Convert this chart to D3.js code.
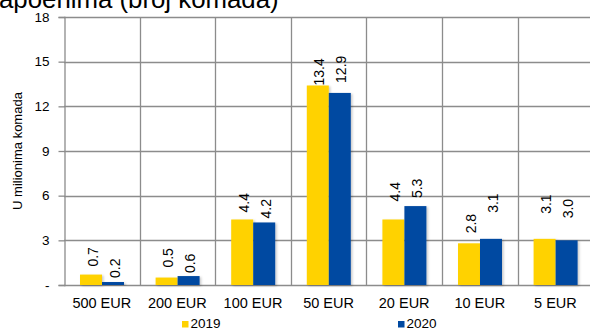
<!DOCTYPE html>
<html>
<head>
<meta charset="utf-8">
<script src="https://cdn.jsdelivr.net/npm/d3@7"></script>
<style>
  html, body { margin: 0; padding: 0; background: #fff; overflow: hidden; }
  svg { display: block; font-family: "Liberation Sans", Arial, sans-serif; }
</style>
</head>
<body>
<svg id="chart" width="590" height="329"></svg>
<script>
// Banknotes by denomination, millions of pieces
const categories = ["500 EUR", "200 EUR", "100 EUR", "50 EUR", "20 EUR", "10 EUR", "5 EUR"];
const seriesNames = ["2019", "2020"];
const values2019 = [0.7, 0.5, 4.4, 13.4, 4.4, 2.8, 3.1];
const values2020 = [0.2, 0.6, 4.2, 12.9, 5.3, 3.1, 3.0];
const yTicks = [0, 3, 6, 9, 12, 15, 18];
const colors = ["#FFD200", "#0049A1"];

// Hand-tuned gap (px) between each bar top and its rotated value label
const labelGap2019 = [8, 10, 7, 0, 18, 10, 25];
const labelGap2020 = [4, 3, 4, 10, 8, 26, 22];

const svg = d3.select("#chart");
const margin = { left: 64, top: 17, bottom: 44 };
const plotBottom = 329 - margin.bottom;
const bandWidth = 75.6;
const plotRight = margin.left + bandWidth * categories.length;
const FONT = "'Liberation Sans', Arial, sans-serif";

const x = d3.scaleBand().domain(categories).range([margin.left, plotRight]);
const xs = d3.scaleBand().domain(seriesNames).range([16, 60]);
const y = d3.scaleLinear().domain([0, 18]).range([plotBottom, margin.top]);

const defs = svg.append("defs");
const f = defs.append("filter").attr("id", "shadow").attr("x", "-20%").attr("y", "-20%").attr("width", "150%").attr("height", "150%");
f.append("feDropShadow").attr("dx", 1.5).attr("dy", 1).attr("stdDeviation", 1).attr("flood-color", "#000").attr("flood-opacity", 0.22);

// Title (second line of the heading)
svg.append("text").attr("x", -1).attr("y", 8).attr("font-size", 25.8).attr("fill", "#000")
  .text("apoenima (broj komada)");

// Horizontal gridlines
const gridColor = "#8c8c8c";
svg.append("g").selectAll("line").data(yTicks.filter(d => d > 0)).join("line")
  .attr("x1", margin.left).attr("x2", 600)
  .attr("y1", d => Math.round(y(d)) + 0.5).attr("y2", d => Math.round(y(d)) + 0.5)
  .attr("stroke", gridColor).attr("stroke-width", 1.3);

// Vertical gridlines between categories
svg.append("g").selectAll("line").data(categories.slice(1)).join("line")
  .attr("x1", d => Math.round(x(d)) + 0.5).attr("x2", d => Math.round(x(d)) + 0.5)
  .attr("y1", margin.top).attr("y2", plotBottom)
  .attr("stroke", gridColor).attr("stroke-width", 1.3);

// Y axis
const yAxis = d3.axisLeft(y).tickValues(yTicks).tickSize(6).tickPadding(9)
  .tickFormat(d => d === 0 ? "-" : d3.format("d")(d));
const gy = svg.append("g").attr("transform", `translate(${margin.left + 0.5},0)`).call(yAxis);
gy.select(".domain").attr("stroke", gridColor).attr("stroke-width", 1.3);
gy.selectAll(".tick line").attr("stroke", gridColor).attr("stroke-width", 1.3);
gy.selectAll(".tick text").attr("font-size", 13.5).attr("fill", "#000").attr("font-family", FONT);

// X axis
const xAxis = d3.axisBottom(x).tickSize(0).tickPadding(12);
const gx = svg.append("g").attr("transform", `translate(0,${plotBottom + 0.5})`).call(xAxis);
gx.select(".domain").attr("d", `M${margin.left},0H600`).attr("stroke", gridColor).attr("stroke-width", 1.3);
gx.selectAll(".tick text").attr("font-size", 14.5).attr("fill", "#000").attr("font-family", FONT);

// Y axis title
svg.append("text")
  .attr("transform", `translate(22,${(margin.top + plotBottom) / 2}) rotate(-90)`)
  .attr("text-anchor", "middle").attr("font-size", 13).attr("fill", "#000")
  .text("U milionima komada");

// Bars
const rows = categories.map((c, i) => ({
  cat: c,
  items: [
    { v: values2019[i], s: seriesNames[0], j: 0, gap: labelGap2019[i] },
    { v: values2020[i], s: seriesNames[1], j: 1, gap: labelGap2020[i] }
  ]
}));
const groups = svg.append("g").selectAll("g").data(rows).join("g")
  .attr("transform", d => `translate(${x(d.cat)},0)`);

groups.selectAll("rect").data(d => d.items).join("rect")
  .attr("x", d => xs(d.s)).attr("width", xs.bandwidth())
  .attr("y", d => y(d.v)).attr("height", d => plotBottom - y(d.v))
  .attr("fill", d => colors[d.j]).attr("filter", "url(#shadow)");

// Value labels, rotated
groups.selectAll("text.val").data(d => d.items).join("text")
  .attr("class", "val")
  .attr("transform", d => `translate(${xs(d.s) + xs.bandwidth() / 2 + 6.5},${y(d.v) - d.gap}) rotate(-90)`)
  .attr("font-size", 14).attr("fill", "#000")
  .text(d => d3.format(".1f")(d.v));

// Legend
const legendPos = [182, 398];
const lg = svg.append("g").selectAll("g").data(seriesNames).join("g")
  .attr("transform", (d, i) => `translate(${legendPos[i]},321)`);
lg.append("rect").attr("width", 6.5).attr("height", 6.5).attr("fill", (d, i) => colors[i]);
lg.append("text").attr("x", 8.5).attr("y", 6.5).attr("font-size", 13.5).attr("fill", "#000").text(d => d);
</script>
</body>
</html>
